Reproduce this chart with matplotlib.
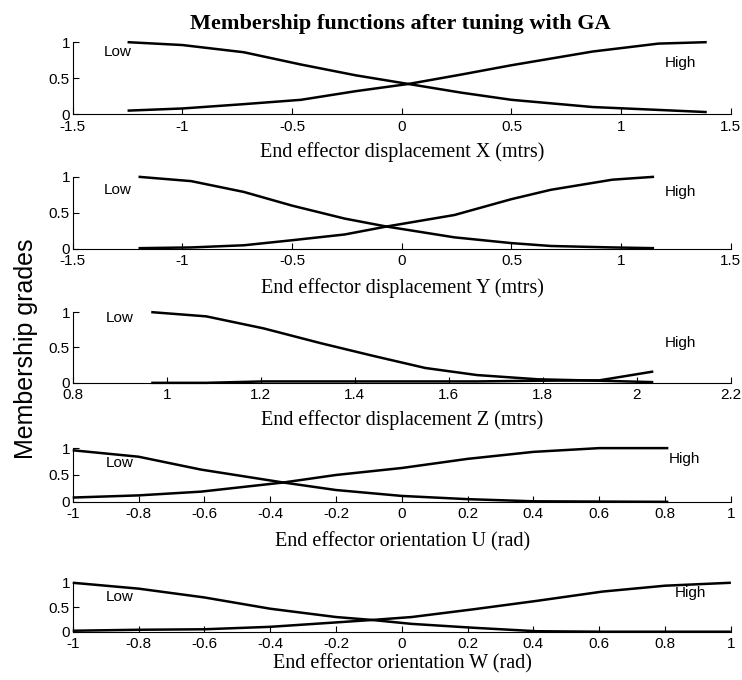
import numpy as np
import matplotlib
matplotlib.use('Agg')
import matplotlib.pyplot as plt

# membership function samples
x1 = [-1.25, -1.0, -0.72, -0.46, -0.21, 0.03, 0.27, 0.5, 0.87, 1.17, 1.39]
low1 = [1.0, 0.96, 0.86, 0.69, 0.54, 0.42, 0.3, 0.2, 0.1, 0.06, 0.03]
high1 = [0.05, 0.08, 0.14, 0.2, 0.32, 0.42, 0.55, 0.68, 0.87, 0.98, 1.0]

x2 = [-1.2, -0.96, -0.72, -0.5, -0.26, -0.07, 0.24, 0.5, 0.68, 0.96, 1.15]
low2 = [1.0, 0.94, 0.79, 0.6, 0.42, 0.31, 0.16, 0.08, 0.04, 0.02, 0.01]
high2 = [0.01, 0.02, 0.05, 0.12, 0.2, 0.31, 0.47, 0.69, 0.82, 0.96, 1.0]

x3 = [0.967, 1.084, 1.206, 1.328, 1.44, 1.55, 1.66, 1.79, 1.92, 2.035]
low3 = [1.0, 0.94, 0.77, 0.56, 0.38, 0.21, 0.11, 0.05, 0.03, 0.01]
high3 = [0.0, 0.0, 0.02, 0.02, 0.02, 0.02, 0.02, 0.03, 0.035, 0.16]

x4 = [-1.0, -0.8, -0.61, -0.36, -0.2, 0.0, 0.2, 0.4, 0.6, 0.81]
low4 = [0.96, 0.84, 0.6, 0.36, 0.22, 0.11, 0.05, 0.01, 0.005, 0.0]
high4 = [0.08, 0.12, 0.19, 0.36, 0.5, 0.63, 0.8, 0.93, 1.0, 1.0]

x5 = [-1.0, -0.8, -0.6, -0.4, -0.2, -0.09, 0.03, 0.22, 0.41, 0.61, 0.8, 1.0]
low5 = [1.0, 0.88, 0.7, 0.47, 0.3, 0.24, 0.16, 0.08, 0.01, 0.0, 0.0, 0.0]
high5 = [0.02, 0.04, 0.05, 0.1, 0.19, 0.24, 0.3, 0.46, 0.63, 0.82, 0.94, 1.0]

xlabels = ['End effector displacement X (mtrs)', 'End effector displacement Y (mtrs)',
           'End effector displacement Z (mtrs)', 'End effector orientation U (rad)',
           'End effector orientation W (rad)']
xranges = [(-1.5, 1.5, 0.5), (-1.5, 1.5, 0.5), (0.8, 2.2, 0.2), (-1, 1, 0.2), (-1, 1, 0.2)]
low_pos = [(-1.36, 0.87), (-1.36, 0.81), (0.87, 0.92), (-0.9, 0.72), (-0.9, 0.7)]
high_pos = [(1.2, 0.71), (1.2, 0.79), (2.06, 0.56), (0.81, 0.79), (0.83, 0.8)]

xs = [x1, x2, x3, x4, x5]
lows = [low1, low2, low3, low4, low5]
highs = [high1, high2, high3, high4, high5]

# axes boxes in figure fractions [left, bottom, width, height]
boxes = [[0.098, 0.832, 0.887, 0.106],
         [0.098, 0.634, 0.887, 0.106],
         [0.098, 0.437, 0.887, 0.104],
         [0.098, 0.262, 0.887, 0.079],
         [0.098, 0.071, 0.887, 0.072]]
label_y = [0.7765, 0.5765, 0.382, 0.203, 0.024]

sans = ['Liberation Sans', 'DejaVu Sans']
serif = ['Liberation Serif', 'DejaVu Serif']

fig = plt.figure(figsize=(7.42, 6.8), dpi=100)

for i in range(5):
    ax = fig.add_axes(boxes[i])
    ax.plot(xs[i], lows[i], color='k', lw=1.8, clip_on=False, solid_capstyle='butt')
    ax.plot(xs[i], highs[i], color='k', lw=1.8, clip_on=False, solid_capstyle='butt')
    lo, hi, st = xranges[i]
    ax.set_xlim(lo, hi)
    ax.set_ylim(0, 1)
    ticks = np.round(np.arange(lo, hi + st / 2, st), 2) + 0.0
    ax.set_xticks(ticks)
    ax.set_xticklabels(['%g' % t for t in ticks], family=sans, fontsize=11)
    ax.set_yticks([0, 0.5, 1])
    ax.set_yticklabels(['0', '0.5', '1'], family=sans, fontsize=11)
    ax.tick_params(direction='in', length=4, width=0.8)
    ax.tick_params(axis='x', pad=4)
    ax.tick_params(axis='y', pad=2)
    for s in ['top', 'right']:
        ax.spines[s].set_visible(False)
    for s in ['left', 'bottom']:
        ax.spines[s].set_linewidth(0.8)
    ax.patch.set_alpha(0)
    fig.text(0.542, label_y[i], xlabels[i], family=serif, fontsize=14.5,
             ha='center', va='center')
    ax.text(low_pos[i][0], low_pos[i][1], 'Low', family=sans, fontsize=11, va='center')
    ax.text(high_pos[i][0], high_pos[i][1], 'High', family=sans, fontsize=11, va='center')

fig.text(0.54, 0.965, 'Membership functions after tuning with GA', family=serif,
         fontsize=16, fontweight='bold', ha='center', va='center')
fig.text(0.035, 0.487, 'Membership grades', family=sans,
         fontsize=18, rotation=90, ha='center', va='center')

fig.savefig('out.png', dpi=100)
